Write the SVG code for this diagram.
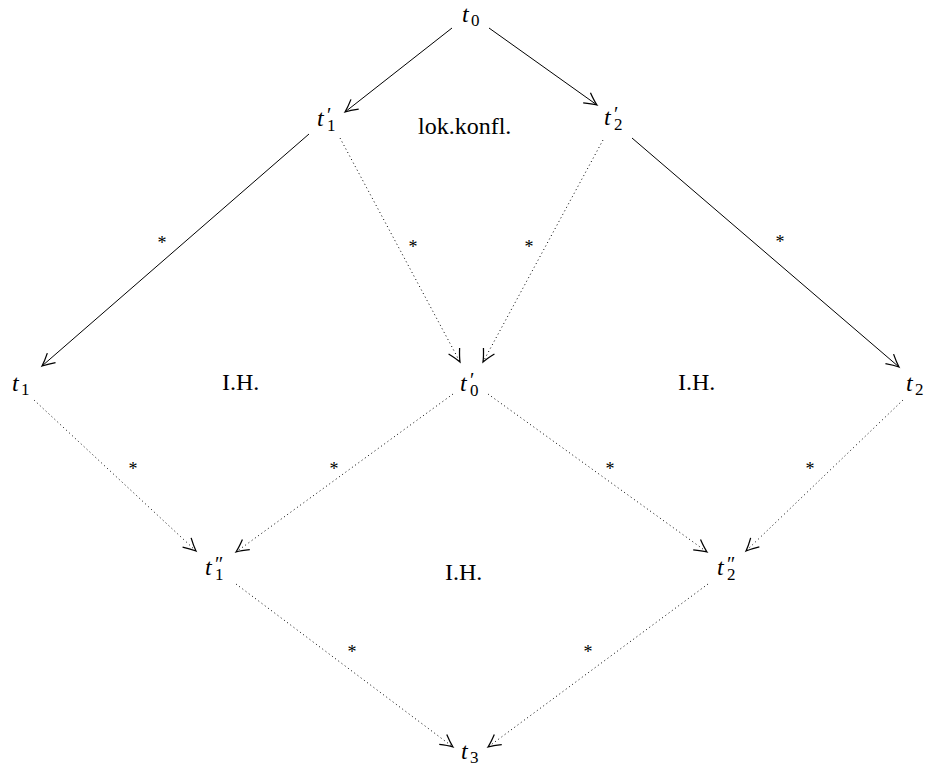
<svg xmlns="http://www.w3.org/2000/svg" width="930" height="767" viewBox="0 0 930 767">
<style>
text{font-family:"Liberation Serif","Times New Roman",serif;fill:#000}
.it{font-style:italic;font-size:24px}
.sb{font-size:17px;font-style:normal}
.pr{font-size:20px;font-style:normal}
.txt{font-size:24px}
.st{font-size:18px;text-anchor:middle}
.e{fill:none;stroke:#000;stroke-width:1}
.d{stroke-dasharray:1 3;stroke-width:1}
</style>
<defs>
<marker id="ah" markerUnits="userSpaceOnUse" orient="auto" markerWidth="20" markerHeight="20" refX="0" refY="0" viewBox="-12 -8 14 16" overflow="visible">
<path d="M-10,-5 Q-4,-1.5 0,0 Q-4,1.5 -10,5" fill="none" stroke="#000" stroke-width="1" stroke-dasharray="none"/>
</marker>
</defs>
<g id="connectors">
<path class="e" d="M452,28 L345,112" marker-end="url(#ah)"/>
<path class="e" d="M489,28 L597,105" marker-end="url(#ah)"/>
<path class="e" d="M309,134 L42,366" marker-end="url(#ah)"/>
<path class="e" d="M632,138 L899,367" marker-end="url(#ah)"/>
<path class="e d" d="M340,138 L460,362" marker-end="url(#ah)"/>
<path class="e d" d="M603,140 L483,362" marker-end="url(#ah)"/>
<path class="e d" d="M34,400 L196,551" marker-end="url(#ah)"/>
<path class="e d" d="M453,394 L236,552" marker-end="url(#ah)"/>
<path class="e d" d="M488,394 L707,552" marker-end="url(#ah)"/>
<path class="e d" d="M903,400 L746,551" marker-end="url(#ah)"/>
<path class="e d" d="M236,584 L453,747" marker-end="url(#ah)"/>
<path class="e d" d="M708,584 L488,747" marker-end="url(#ah)"/>
<text class="st" x="162" y="249">*</text>
<text class="st" x="413" y="253">*</text>
<text class="st" x="529" y="253">*</text>
<text class="st" x="780" y="248">*</text>
<text class="st" x="133" y="475">*</text>
<text class="st" x="334" y="475">*</text>
<text class="st" x="610" y="475">*</text>
<text class="st" x="810" y="475">*</text>
<text class="st" x="352" y="658">*</text>
<text class="st" x="588" y="658">*</text>
</g>
<g id="t0"><text x="462" y="22"><tspan class="it">t</tspan><tspan class="sb" x="471" y="26">0</tspan></text></g>
<g id="t1p"><text x="317" y="126"><tspan class="it">t</tspan><tspan class="pr" x="327" y="122">′</tspan><tspan class="sb" x="327" y="131">1</tspan></text></g>
<g id="lok"><text class="txt" x="418" y="134">lok.konfl.</text></g>
<g id="t2p"><text x="604" y="125"><tspan class="it">t</tspan><tspan class="pr" x="614" y="121">′</tspan><tspan class="sb" x="614" y="130">2</tspan></text></g>
<g id="t1"><text x="12" y="391"><tspan class="it">t</tspan><tspan class="sb" x="21" y="395">1</tspan></text></g>
<g id="ih1"><text class="txt" x="222" y="390">I.H.</text></g>
<g id="t0p"><text x="460" y="391"><tspan class="it">t</tspan><tspan class="pr" x="470" y="387">′</tspan><tspan class="sb" x="470" y="396">0</tspan></text></g>
<g id="ih2"><text class="txt" x="678" y="390">I.H.</text></g>
<g id="t2"><text x="906" y="391"><tspan class="it">t</tspan><tspan class="sb" x="915" y="395">2</tspan></text></g>
<g id="t1pp"><text x="205" y="575"><tspan class="it">t</tspan><tspan class="pr" x="215" y="571">″</tspan><tspan class="sb" x="215" y="580">1</tspan></text></g>
<g id="ih3"><text class="txt" x="445" y="580">I.H.</text></g>
<g id="t2pp"><text x="717" y="575"><tspan class="it">t</tspan><tspan class="pr" x="727" y="571">″</tspan><tspan class="sb" x="727" y="580">2</tspan></text></g>
<g id="t3"><text x="461" y="759"><tspan class="it">t</tspan><tspan class="sb" x="470" y="763">3</tspan></text></g>
</svg>
